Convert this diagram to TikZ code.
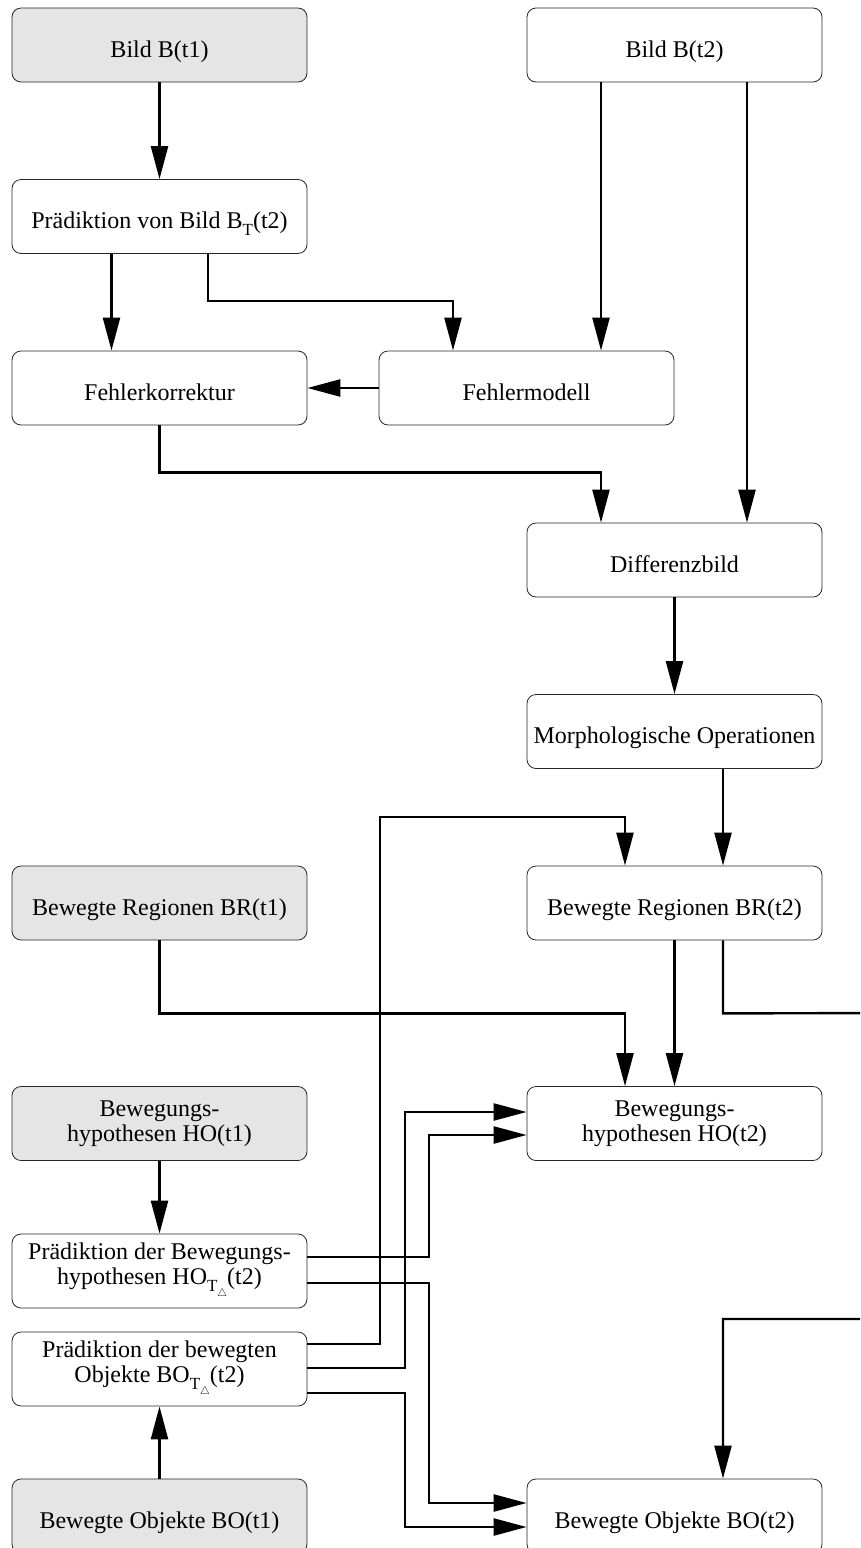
\documentclass[tikz,border=0pt]{standalone}
\usepackage{fontspec}
\setmainfont{Liberation Serif}
\usetikzlibrary{arrows.meta}
% lowered subscripts used in the labels
\newcommand\subT{\raisebox{-0.28em}{\fontsize{17}{17}\selectfont T}}
\newcommand\subTd{\raisebox{-0.28em}{\fontsize{17}{17}\selectfont T\raisebox{-0.3em}{\fontsize{11}{11}\selectfont$\triangle$}}}
\begin{document}
\begin{tikzpicture}[x=1pt,y=-1pt,
  box/.style={draw=black!85, line width=0.8pt, rounded corners=9pt,
    minimum width=295pt, minimum height=74pt, inner xsep=1pt,
    align=center, font=\fontsize{24}{25}\selectfont},
  oneline/.style={text height=24pt, text depth=0pt},
  given/.style={fill=black!10},
  flow/.style={line width=2.4pt, -{Triangle[length=33pt,width=17pt]}},
]
\useasboundingbox (0,0) rectangle (860,1548);
\clip (0,0) rectangle (860,1548);

% processing steps
\node[box,oneline,given] (b1)  at (159.5,45)    {Bild B(t1)};
\node[box,oneline]       (b2)  at (674.5,45)    {Bild B(t2)};
\node[box,oneline]       (pb)  at (159.5,216.5) {Prädiktion von Bild B\subT(t2)};
\node[box,oneline]       (fk)  at (159.5,388)   {Fehlerkorrektur};
\node[box,oneline]       (fm)  at (526.5,388)   {Fehlermodell};
\node[box,oneline]       (db)  at (674.5,560)   {Differenzbild};
\node[box,oneline]       (mo)  at (674.5,731.5) {Morphologische Operationen};
\node[box,oneline,given] (br1) at (159.5,903)   {Bewegte Regionen BR(t1)};
\node[box,oneline]       (br2) at (674.5,903)   {Bewegte Regionen BR(t2)};
\node[box,given]         (ho1) at (159.5,1123.5){Bewegungs-\\hypothesen HO(t1)};
\node[box]               (ho2) at (674.5,1123.5){Bewegungs-\\hypothesen HO(t2)};
\node[box]               (pho) at (159.5,1271)  {Prädiktion der Bewegungs-\\hypothesen HO\subTd(t2)};
\node[box]               (pbo) at (159.5,1369)  {Prädiktion der bewegten\\Objekte BO\subTd(t2)};
\node[box,oneline,given] (bo1) at (159.5,1516)  {Bewegte Objekte BO(t1)};
\node[box,oneline]       (bo2) at (674.5,1516)  {Bewegte Objekte BO(t2)};

% outlets of Bild B(t2)
\coordinate (b2l) at ([xshift=-73.5pt]b2.south);
\coordinate (b2r) at ([xshift=72.5pt]b2.south);

% image prediction and difference image
\draw[flow] (b1.south) -- (pb.north);
\draw[flow] ([xshift=-48pt]pb.south) -- ([xshift=-48pt]fk.north);
\draw[flow] ([xshift=48.5pt]pb.south) -- ++(0,47) -| ([xshift=-73.5pt]fm.north);
\draw[flow] (b2l) -- (b2l |- fm.north);
\draw[flow] (fm.west) -- (fk.east);
\draw[flow] (b2r) -- (b2r |- db.north);
\draw[flow] (fk.south) -- ++(0,47) -| (b2l |- db.north);
\draw[flow] (db.south) -- (mo.north);
\draw[flow] ([xshift=48.5pt]mo.south) -- ([xshift=48.5pt]br2.north);

% moving regions
\draw[flow] ([yshift=25pt]pbo.east) -| (380,817) -| ([xshift=-49.5pt]br2.north);
\draw[flow] (br1.south) -- ++(0,73) -| ([xshift=-49.5pt]ho2.north);
\draw[flow] (br2.south) -- (ho2.north);
\draw[flow] ([xshift=48.5pt]br2.south) -- ++(0,73) -- (900,1013) -- (900,1319) -| ([xshift=48.5pt]bo2.north);

% motion hypotheses and moving objects
\draw[flow] (ho1.south) -- (pho.north);
\draw[flow] ([yshift=14pt]pho.east) -| (429,1135) -- ([yshift=-11.5pt]ho2.west);
\draw[flow] ([yshift=-12pt]pho.east) -| (429,1503) -- ([yshift=13pt]bo2.west);
\draw[flow] ([yshift=1pt]pbo.east) -| (405,1112) -- ([yshift=11.5pt]ho2.west);
\draw[flow] ([yshift=-24pt]pbo.east) -| (405,1527) -- ([yshift=-11pt]bo2.west);
\draw[flow] (bo1.north) -- (pbo.south);
\end{tikzpicture}
\end{document}
